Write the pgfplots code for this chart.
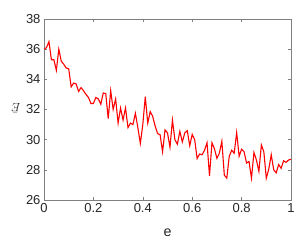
\documentclass[border=0pt]{standalone}
\usepackage{pgfplots}
\pgfplotsset{compat=1.18}
\usepackage{fontspec}
\setmainfont{Liberation Sans}
\definecolor{axgray}{gray}{0.5}
\definecolor{txtgray}{gray}{0.15}
\begin{document}
\begin{tikzpicture}[x=1pt,y=1pt]
\path (0,0) rectangle (304,242);
\begin{axis}[
  at={(44pt,42pt)}, anchor=south west,
  scale only axis, width=247pt, height=181pt,
  xmin=0, xmax=1, ymin=26, ymax=38,
  xtick={0,0.2,0.4,0.6,0.8,1},
  ytick={26,28,30,32,34,36,38},
  tick align=inside,
  major tick length=3pt,
  axis line style={axgray, line width=0.6pt},
  every tick/.style={axgray, line width=0.6pt},
  tick label style={font=\fontsize{13}{15}\selectfont, text=txtgray},
  /pgf/number format/assume math mode=true,
  xlabel={e},
  ylabel={$\bar{E}$},
  xlabel style={font=\fontsize{14.3}{16}\selectfont, text=txtgray, at={(axis description cs:0.5,-0.18)}, anchor=center},
  ylabel style={font=\fontsize{12}{14}\selectfont, text=txtgray, at={(axis description cs:-0.113,0.508)}, anchor=center, rotate=90},
]
\addplot[red, line width=1.1pt, mark=none] table {
x y
0.00 36.0
0.01 36.1
0.02 36.5
0.03 35.3
0.04 35.3
0.05 34.6
0.06 36.0
0.07 35.2
0.08 35.0
0.09 34.75
0.10 34.7
0.11 33.5
0.12 33.75
0.13 33.7
0.14 33.2
0.15 33.45
0.16 33.25
0.17 33.0
0.18 32.8
0.19 32.4
0.20 32.4
0.21 32.8
0.22 32.7
0.23 32.35
0.24 33.1
0.25 33.05
0.26 31.4
0.27 33.25
0.28 32.0
0.29 32.7
0.30 31.1
0.31 32.1
0.32 31.3
0.33 32.1
0.34 30.8
0.35 31.1
0.36 31.0
0.37 31.75
0.38 30.8
0.39 29.75
0.40 31.0
0.41 32.85
0.42 31.1
0.43 31.86
0.44 31.55
0.45 30.9
0.46 30.4
0.47 30.33
0.48 29.2
0.49 30.65
0.50 30.45
0.51 29.5
0.52 31.3
0.53 30.0
0.54 29.7
0.55 30.55
0.56 29.85
0.57 30.45
0.58 30.6
0.59 29.6
0.60 30.35
0.61 30.0
0.62 28.75
0.63 29.05
0.64 29.0
0.65 29.3
0.66 29.8
0.67 27.6
0.68 29.8
0.69 29.4
0.70 28.77
0.71 29.1
0.72 29.9
0.73 27.65
0.74 27.45
0.75 28.9
0.76 29.3
0.77 29.1
0.78 30.47
0.79 28.9
0.80 29.37
0.81 29.2
0.82 28.45
0.83 28.55
0.84 27.45
0.85 29.15
0.86 28.65
0.87 27.9
0.88 29.65
0.89 29.2
0.90 27.45
0.91 28.05
0.92 29.0
0.93 28.0
0.94 27.8
0.95 28.35
0.96 28.1
0.97 28.6
0.98 28.5
0.99 28.65
1.00 28.7
};
\end{axis}
\end{tikzpicture}
\end{document}
